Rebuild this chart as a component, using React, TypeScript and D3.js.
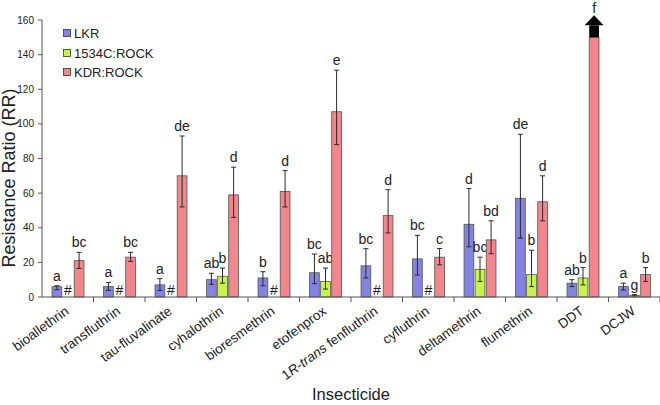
import React from "react";
import * as d3 from "d3";

const categories = ["bioallethrin", "transfluthrin", "tau-fluvalinate", "cyhalothrin", "bioresmethrin", "etofenprox", "1R-trans fenfluthrin", "cyfluthrin", "deltamethrin", "flumethrin", "DDT", "DCJW"];
const seriesNames = ["LKR", "1534C:ROCK", "KDR:ROCK"];

const lkrValues = [6, 6, 7, 10, 11, 14, 18, 22, 42, 57, 8, 6];
const lkrLow = [4.2, 3.8, 3.8, 7.3, 6.5, 7.7, 11, 12.7, 29, 34, 6, 4];
const lkrHigh = [6.5, 8.4, 10.6, 13.7, 14.6, 24.8, 27.9, 35.6, 62.6, 94, 10, 8];
const lkrLetters = ["a", "a", "a", "ab", "b", "bc", "bc", "bc", "d", "de", "ab", "a"];

const rockValues = [null, null, null, 12, null, 9, null, null, 16, 13, 11, 1];
const rockLow = [null, null, null, 8, null, 4.6, null, null, 9, 6, 7, 0.6];
const rockHigh = [null, null, null, 16.7, null, 16.7, null, null, 23, 27, 17, 1.4];
const rockLetters = ["#", "#", "#", "b", "#", "ab", "#", "#", "bc", "b", "b", "g"];

const kdrValues = [21, 23, 70, 59, 61, 107, 47, 23, 33, 55, 150, 13];
const kdrLow = [16.5, 20.6, 52, 46, 52, 88, 37, 18.6, 25, 44, null, 9];
const kdrHigh = [25.8, 25.8, 93, 75, 73, 131, 62, 28, 44, 70, null, 17];
const kdrLetters = ["bc", "bc", "de", "d", "d", "e", "d", "c", "bd", "d", "f", "b"];
const kdrOffScale = [false, false, false, false, false, false, false, false, false, false, true, false];

const yTicks = [0, 20, 40, 60, 80, 100, 120, 140, 160];

const colors = ["#8383E4", "#C8F24C", "#F2868B"];
const FONT = "'Liberation Sans', Arial, sans-serif";

export default function App() {
  const W = 660, H = 405;
  const left = 42, right = 660, top = 20, bottom = 297;
  const y = d3.scaleLinear().domain([0, 160]).range([bottom, top]);
  const x = d3.scaleBand().domain(categories).range([left, right]).padding(0);
  const step = x.step();
  const inner = d3.scaleBand().domain(seriesNames).range([step * 0.195, step * 0.815]).paddingInner(0.12).paddingOuter(0);
  const bw = inner.bandwidth();

  const series = [
    { name: seriesNames[0], values: lkrValues, lo: lkrLow, hi: lkrHigh, letters: lkrLetters, off: categories.map(() => false) },
    { name: seriesNames[1], values: rockValues, lo: rockLow, hi: rockHigh, letters: rockLetters, off: categories.map(() => false) },
    { name: seriesNames[2], values: kdrValues, lo: kdrLow, hi: kdrHigh, letters: kdrLetters, off: kdrOffScale },
  ];

  const renderLabel = (c: string) => {
    if (c === "1R-trans fenfluthrin") {
      return (
        <>
          <tspan>1</tspan>
          <tspan fontStyle="italic">R</tspan>
          <tspan>-</tspan>
          <tspan fontStyle="italic">trans</tspan>
          <tspan> fenfluthrin</tspan>
        </>
      );
    }
    return c;
  };

  return (
    <svg width={W} height={H} style={{ position: "absolute", left: 0, top: 0, display: "block", background: "#fff" }} fontFamily={FONT}>
      <rect x={0} y={0} width={W} height={H} fill="#fff" />
      {series.map((s, si) =>
        categories.map((c, ci) => {
          const v = s.values[ci];
          const bx = (x(c) as number) + (inner(s.name) as number);
          const cx = bx + bw / 2;
          const letter = s.letters[ci];
          if (v === null || v === undefined) {
            return (
              <text key={`${si}-${ci}`} x={cx} y={bottom - 2} textAnchor="middle" fontSize={14} fill="#222">
                {letter}
              </text>
            );
          }
          const lo = s.lo[ci];
          const hi = s.hi[ci];
          const yTop = y(v);
          let labelY = (hi !== null && hi !== undefined ? y(hi) : yTop) - 5;
          let arrow = null;
          if (s.off[ci]) {
            const shaftTop = yTop - 12;
            const tip = shaftTop - 10;
            arrow = (
              <g>
                <rect x={bx} y={shaftTop} width={bw} height={12} fill="#000" />
                <polygon points={`${cx - 9.5},${shaftTop} ${cx + 9.5},${shaftTop} ${cx},${tip}`} fill="#000" />
              </g>
            );
            labelY = tip - 2.5;
          }
          return (
            <g key={`${si}-${ci}`}>
              <rect x={bx} y={yTop} width={bw} height={bottom - yTop} fill={colors[si]} stroke="#555" strokeWidth={0.8} />
              {lo !== null && hi !== null && lo !== undefined && hi !== undefined && (
                <g stroke="#2a2a2a" strokeWidth={1}>
                  <line x1={cx} x2={cx} y1={y(hi)} y2={y(lo)} />
                  <line x1={cx - 2.5} x2={cx + 2.5} y1={y(hi)} y2={y(hi)} />
                  <line x1={cx - 2.5} x2={cx + 2.5} y1={y(lo)} y2={y(lo)} />
                </g>
              )}
              {arrow}
              <text x={cx} y={labelY} textAnchor="middle" fontSize={14} fill="#222">
                {letter}
              </text>
            </g>
          );
        })
      )}
      <line x1={left} x2={left} y1={top} y2={bottom} stroke="#555" strokeWidth={1} />
      {yTicks.map((t) => (
        <g key={t}>
          <line x1={left - 4} x2={left} y1={y(t)} y2={y(t)} stroke="#555" />
          <text x={left - 8} y={y(t)} dy="0.35em" textAnchor="end" fontSize={10} fill="#222">
            {t}
          </text>
        </g>
      ))}
      <line x1={left} x2={right} y1={bottom} y2={bottom} stroke="#555" strokeWidth={1} />
      {categories.map((c) => (
        <line key={c} x1={(x(c) as number) + step} x2={(x(c) as number) + step} y1={bottom} y2={bottom + 5} stroke="#555" />
      ))}
      {categories.map((c) => {
        const cx = (x(c) as number) + step / 2 + 2;
        const cy = 313;
        return (
          <text key={c} transform={`translate(${cx},${cy}) rotate(-36)`} textAnchor="end" fontSize={13.5} fill="#222">
            {renderLabel(c)}
          </text>
        );
      })}
      <text transform={`translate(15,178) rotate(-90)`} textAnchor="middle" fontSize={18} fill="#222">
        Resistance Ratio (RR)
      </text>
      <text x={351} y={400} textAnchor="middle" fontSize={16.5} fill="#222">
        Insecticide
      </text>
      {seriesNames.map((n, i) => {
        const ly = [33, 53, 72][i];
        return (
          <g key={n}>
            <rect x={63.5} y={ly - 3.5} width={7} height={7} fill={colors[i]} stroke="#333" strokeWidth={0.8} />
            <text x={74} y={ly} dy="0.35em" fontSize={13} fill="#222">
              {n}
            </text>
          </g>
        );
      })}
    </svg>
  );
}
